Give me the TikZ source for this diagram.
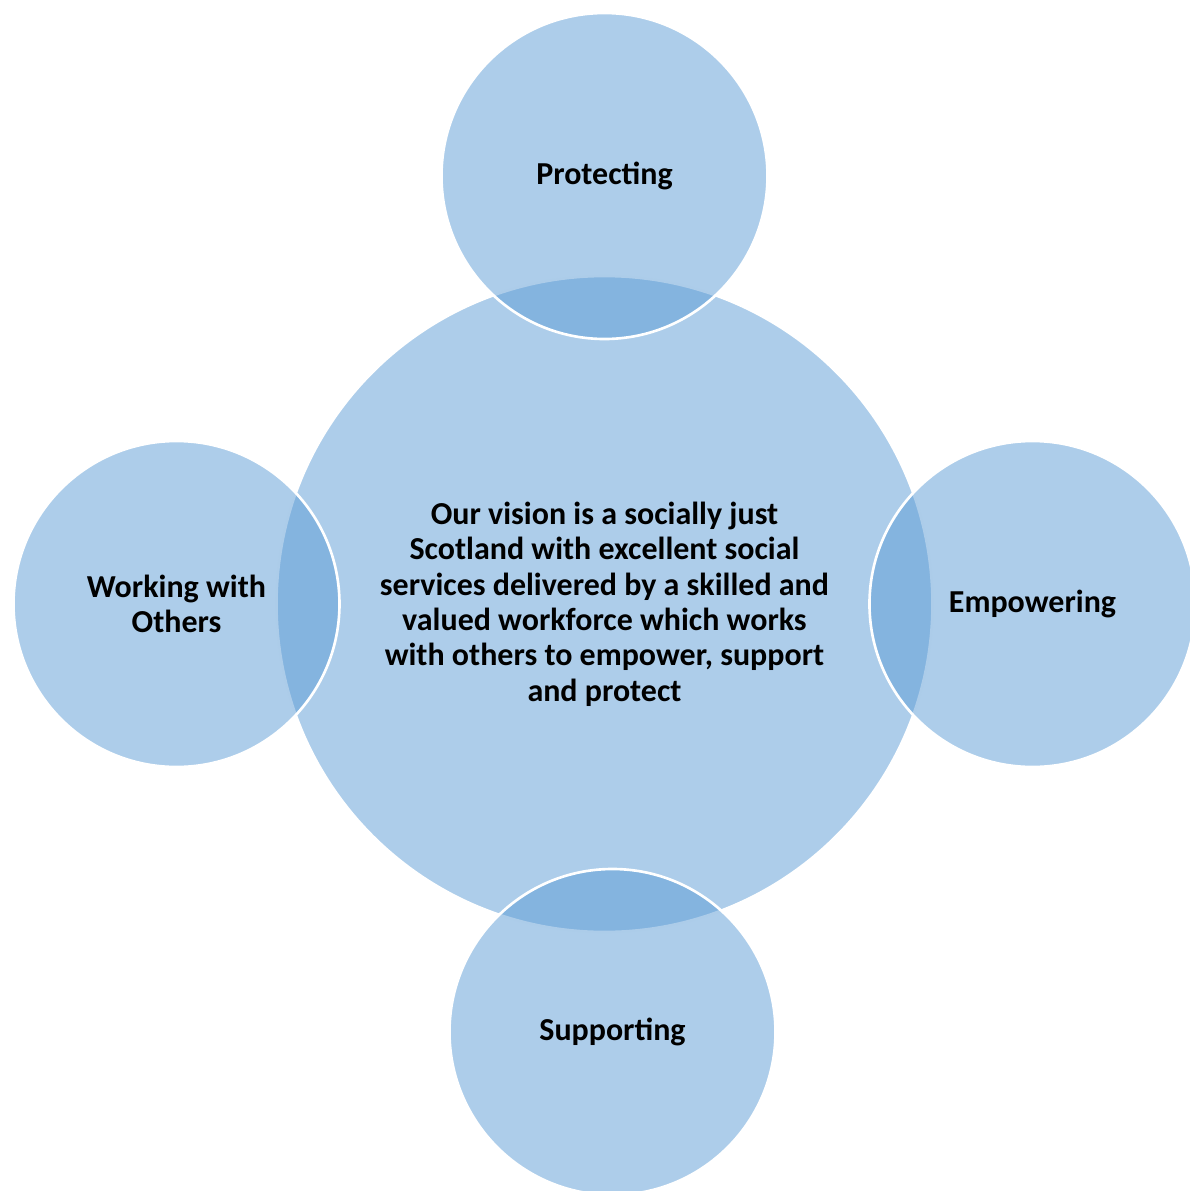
\documentclass[tikz,border=0pt]{standalone}
\usepackage{fontspec}
\setmainfont{Carlito}
\usetikzlibrary{positioning}
\definecolor{vennblue}{HTML}{5B9BD5}
\begin{document}
\begin{tikzpicture}[node distance=-0.63cm]
  \tikzstyle{every node}=[font=\bfseries\fontsize{9.1}{10.05}\selectfont]
  \tikzstyle{venn}=[circle, draw=white, line width=0.75pt, fill=vennblue, fill opacity=0.5,
                text opacity=1, outer sep=0pt, inner sep=0pt, align=center]
  \useasboundingbox (-6.045,-5.87) rectangle (5.855,6.04);

  % Central circle
  \node (vision) [venn, minimum size=6.56cm] at (0,0)
                {Our vision is a socially just\\ Scotland with excellent social\\
                services delivered by a skilled and\\ valued workforce which works\\
                with others to empower, support\\ and protect};

  % Outer circles
  \node (protecting) [venn, minimum size=3.26cm, above=of vision] {Protecting};
  \node (empowering) [venn, minimum size=3.26cm, right=of vision] {Empowering};
  \node (working) [venn, minimum size=3.26cm, left=of vision] {Working with\\ Others};
  \node (supporting) [venn, minimum size=3.26cm, below=of vision, xshift=0.08cm] {Supporting};
\end{tikzpicture}
\end{document}
